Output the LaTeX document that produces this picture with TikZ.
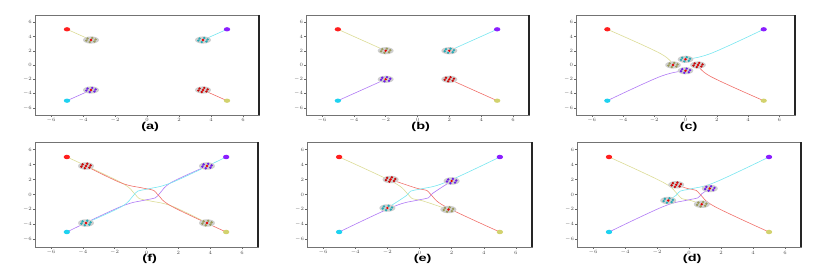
\documentclass[tikz,border=0pt]{standalone}
\usepackage{fontspec}
\setmainfont{Liberation Sans}
\newfontfamily\tickfont{DejaVu Sans}

\definecolor{lineY}{HTML}{DCDC96}
\definecolor{lineC}{HTML}{78E6F0}
\definecolor{lineP}{HTML}{B07AF5}
\definecolor{lineR}{HTML}{F0706A}
\definecolor{markR}{HTML}{FF1E1E}
\definecolor{markP}{HTML}{8A1EFF}
\definecolor{markC}{HTML}{1ED2F0}
\definecolor{markY}{HTML}{D2D26E}
\definecolor{dotY}{HTML}{9A9A5A}
\definecolor{dotC}{HTML}{28AAB4}
\definecolor{dotP}{HTML}{6E1EE6}
\definecolor{dotR}{HTML}{C80A0A}
\definecolor{swarmbg}{HTML}{CFCFCF}

% one group of robots round a named point
\newcommand\swarmat[2]{%
  \fill[swarmbg] (#1) circle[radius=0.5];
  \foreach \a in {15,75,...,315}
    \fill[#2] (#1) ++(\a:0.3) circle[x radius=0.085, y radius=0.18];
  \fill[red!90!black] (#1) circle[x radius=0.085, y radius=0.18];}

% centre x, centre y, x scale, y scale, caption, yellow trail, yellow end
\newcommand\simpanel[7]{%
\begin{scope}[shift={(#1,#2)}, xscale=#3, yscale=#4]
  \foreach \t in {-6,-4,...,6} {
    \draw[tck] (\t,-7) -- (\t,-7.3);
    \node[ticklab] at (\t,-7.75) {$\t$};
    \draw[tck] (-7,\t) -- (-7.12,\t);
    \node[ticklab, anchor=east] at (-7.15,\t) {$\t$};
  }
  \foreach \rot/\col/\ag in {0/lineY/Y, 90/lineP/P, 180/lineR/R, 270/lineC/C} {
    \begin{scope}[rotate=\rot]
      \draw[trail, \col] plot[smooth, tension=0.6] coordinates {#6};
      \coordinate (s\ag) at (#7);
    \end{scope}
  }
  \fill[markR] (-5,5) circle[goalmark];
  \fill[markP] (5,5) circle[goalmark];
  \fill[markC] (-5,-5) circle[goalmark];
  \fill[markY] (5,-5) circle[goalmark];
  \swarmat{sY}{dotY}
  \swarmat{sP}{dotP}
  \swarmat{sR}{dotR}
  \swarmat{sC}{dotC}
  \draw[frm] (-7,-7) rectangle (7,7);
  \draw[frmedge] (7,-7) -- (7,7);
  \node[subcap] at (0.2,-8.65) {\scalebox{1.45}[1]{#5}};
\end{scope}}

\begin{document}
\begin{tikzpicture}[x=1pt, y=1pt,
  frm/.style={draw=black!55, line width=0.9pt},
  frmedge/.style={draw=black!85, line width=1.6pt},
  tck/.style={draw=black!60, line width=0.3pt},
  ticklab/.style={font=\tickfont\fontsize{3.4}{3.8}\selectfont, text=black!70, inner sep=0.5pt},
  subcap/.style={font=\bfseries\fontsize{10}{12}\selectfont, inner sep=0pt},
  trail/.style={line width=0.6pt, line join=round},
  goalmark/.style={x radius=0.2, y radius=0.3}
]
\useasboundingbox (0,0) rectangle (830,273);
\simpanel{147}{208}{16}{7.14}{(a)}{(-5,5) (-3.5,3.5)}{-3.5,3.5}
\simpanel{417.5}{208}{15.93}{7.14}{(b)}{(-5,5) (-2,2)}{-2,2}
\simpanel{685.5}{208}{15.64}{7.14}{(c)}{(-5,5) (-1.6,1.6) (-0.8,0)}{-0.8,0}
\simpanel{146.5}{78.5}{15.93}{7.5}{(f)}{(-5,5) (-1.6,1.6) (-0.75,0.1) (-0.45,-0.55) (0.2,-0.85) (1.6,-1.55) (3.8,-3.8)}{3.8,-3.8}
\simpanel{419.5}{78.5}{16.07}{7.5}{(e)}{(-5,5) (-1.6,1.6) (-0.75,0.1) (-0.45,-0.55) (0.2,-0.85) (1.8,-2)}{1.8,-2}
\simpanel{689}{78.5}{16}{7.5}{(d)}{(-5,5) (-1.6,1.6) (-0.75,0.1) (-0.45,-0.55) (0.1,-0.8) (0.8,-1.3)}{0.8,-1.3}
\end{tikzpicture}
\end{document}
